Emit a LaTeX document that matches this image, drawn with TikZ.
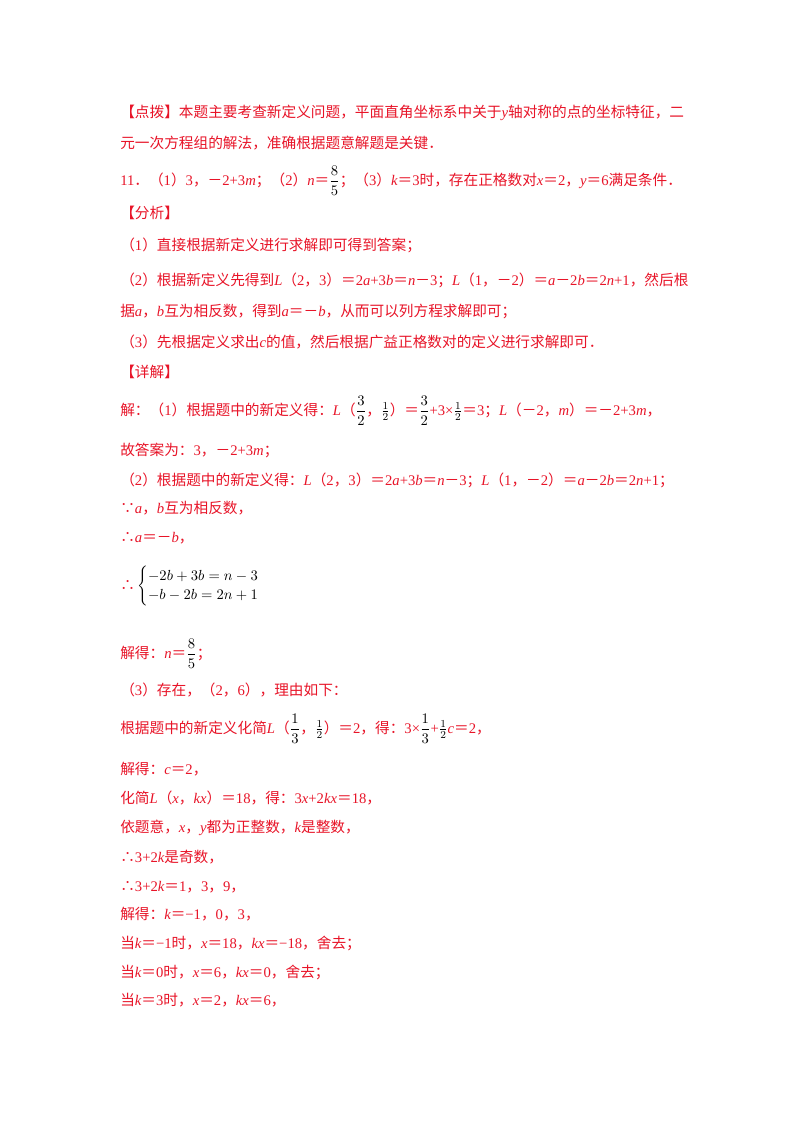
\documentclass[tikz,border=0pt]{standalone}
\usepackage{fontspec}
\setmainfont{Noto Sans CJK SC}
\newfontfamily\lat{Liberation Serif}
\newcommand\mi[1]{{\lat\itshape #1}}
\newcommand\mr[1]{{\lat #1}}
\newcommand\fr[2]{{\color{black}$\displaystyle\frac{#1}{#2}$}}
\newcommand\sfr[2]{{\color{black}$\frac{#1}{#2}$}}
\definecolor{tred}{RGB}{232,20,40}
\tikzset{ln/.style={anchor=base west,inner sep=0pt,text=tred,font=\fontsize{11}{14}\selectfont}}
\begin{document}
\begin{tikzpicture}[x=0.75pt,y=-0.75pt]
\useasboundingbox[fill=white] (0,0) rectangle (800,1132);
\node[ln] (l1) at (120,117) {【点拨】本题主要考查新定义问题，平面直角坐标系中关于\mi{y}轴对称的点的坐标特征，二};
\node[ln] (l2) at (120,148) {元一次方程组的解法，准确根据题意解题是关键．};
\node[ln] (l3) at (120,185) {\mr{11}．（\mr{1}）\mr{3}，－\mr{2+3}\mi{m}；（\mr{2}）\mi{n}＝\fr{8}{5}；（\mr{3}）\mi{k}＝\mr{3}时，存在正格数对\mi{x}＝\mr{2}，\mi{y}＝\mr{6}满足条件．};
\node[ln] (l4) at (120,218) {【分析】};
\node[ln] (l5) at (120,250) {（\mr{1}）直接根据新定义进行求解即可得到答案；};
\node[ln] (l6) at (120,285) {（\mr{2}）根据新定义先得到\mi{L}（\mr{2}，\mr{3}）＝\mr{2}\mi{a}\mr{+3}\mi{b}＝\mi{n}－\mr{3}；\mi{L}（\mr{1}，－\mr{2}）＝\mi{a}－\mr{2}\mi{b}＝\mr{2}\mi{n}\mr{+1}，然后根};
\node[ln] (l7) at (120,316) {据\mi{a}，\mi{b}互为相反数，得到\mi{a}＝－\mi{b}，从而可以列方程求解即可；};
\node[ln] (l8) at (120,347) {（\mr{3}）先根据定义求出\mi{c}的值，然后根据广益正格数对的定义进行求解即可．};
\node[ln] (l9) at (120,377) {【详解】};
\node[ln] (l10) at (120,415) {解：（\mr{1}）根据题中的新定义得：\mi{L}（\fr{3}{2}，\sfr{1}{2}）＝\fr{3}{2}\mr{+3×}\sfr{1}{2}＝\mr{3}；\mi{L}（－\mr{2}，\mi{m}）＝－\mr{2+3}\mi{m}，};
\node[ln] (l11) at (120,455) {故答案为：\mr{3}，－\mr{2+3}\mi{m}；};
\node[ln] (l12) at (120,485) {（\mr{2}）根据题中的新定义得：\mi{L}（\mr{2}，\mr{3}）＝\mr{2}\mi{a}\mr{+3}\mi{b}＝\mi{n}－\mr{3}；\mi{L}（\mr{1}，－\mr{2}）＝\mi{a}－\mr{2}\mi{b}＝\mr{2}\mi{n}\mr{+1}；};
\node[ln] (l13) at (120,513) {∵\mi{a}，\mi{b}互为相反数，};
\node[ln] (l14) at (120,542) {∴\mi{a}＝－\mi{b}，};
\node[ln] (l15) at (120,590) {∴\,{\color{black}$\left\{\begin{array}{@{}l@{}}-2b+3b=n-3\\ -b-2b=2n+1\end{array}\right.$}};
\node[ln] (l16) at (120,658) {解得：\mi{n}＝\fr{8}{5}；};
\node[ln] (l17) at (120,695) {（\mr{3}）存在，（\mr{2}，\mr{6}），理由如下：};
\node[ln] (l18) at (120,733) {根据题中的新定义化简\mi{L}（\fr{1}{3}，\sfr{1}{2}）＝\mr{2}，得：\mr{3×}\fr{1}{3}\mr{+}\sfr{1}{2}\mi{c}＝\mr{2}，};
\node[ln] (l19) at (120,774) {解得：\mi{c}＝\mr{2}，};
\node[ln] (l20) at (120,803) {化简\mi{L}（\mi{x}，\mi{kx}）＝\mr{18}，得：\mr{3}\mi{x}\mr{+2}\mi{kx}＝\mr{18}，};
\node[ln] (l21) at (120,832) {依题意，\mi{x}，\mi{y}都为正整数，\mi{k}是整数，};
\node[ln] (l22) at (120,862) {∴\mr{3+2}\mi{k}是奇数，};
\node[ln] (l23) at (120,891) {∴\mr{3+2}\mi{k}＝\mr{1}，\mr{3}，\mr{9}，};
\node[ln] (l24) at (120,919) {解得：\mi{k}＝\mr{−1}，\mr{0}，\mr{3}，};
\node[ln] (l25) at (120,948) {当\mi{k}＝\mr{−1}时，\mi{x}＝\mr{18}，\mi{kx}＝\mr{−18}，舍去；};
\node[ln] (l26) at (120,977) {当\mi{k}＝\mr{0}时，\mi{x}＝\mr{6}，\mi{kx}＝\mr{0}，舍去；};
\node[ln] (l27) at (120,1005) {当\mi{k}＝\mr{3}时，\mi{x}＝\mr{2}，\mi{kx}＝\mr{6}，};
\end{tikzpicture}
\end{document}
